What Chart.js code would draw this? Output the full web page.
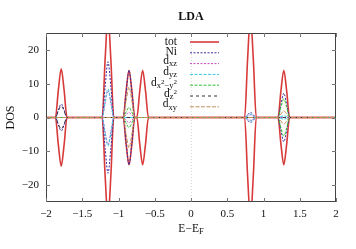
<!DOCTYPE html>
<html>
<head>
<meta charset="utf-8">
<script src="https://cdn.jsdelivr.net/npm/chart.js@4.4.1/dist/chart.umd.min.js"></script>
<style>
  html, body { margin: 0; padding: 0; background: #fff; }
  #wrap { width: 356px; height: 249px; }
</style>
</head>
<body>
<div id="wrap"><canvas id="dos"></canvas></div>
<script>
// energies (E - E_F), shared by every curve
const energia = [-2,
  -1.87, -1.83, -1.79, -1.75, -1.71,
  -1.225, -1.185, -1.145, -1.105, -1.065,
  -0.935, -0.895, -0.855, -0.815, -0.775,
  -0.747, -0.707, -0.667, -0.627, -0.587,
  0.74, 0.78, 0.82, 0.86, 0.90,
  1.20, 1.24, 1.28, 1.32, 1.36,
  2];

// spin-up DOS (spin-down is the mirror image)
const tot  = [0, 0, 8, 14.4, 8, 0, 0, 17, 30, 17, 0, 0, 7.8, 14, 7.8, 0, 0, 7.8, 14, 7.8, 0, 0, 17, 30, 17, 0, 0, 7.8, 14, 7.8, 0, 0];
const ni   = [0, 0, 2.2, 4, 2.2, 0, 0, 9, 16.5, 9, 0, 0, 7.5, 14, 7.5, 0, 0, 0, 0, 0, 0, 0, 0.8, 1.5, 0.8, 0, 0, 3.8, 7.2, 3.8, 0, 0];
const dxz  = [0, 0, 0, 0, 0, 0, 0, 4.3, 8, 4.3, 0, 0, 0.8, 1.5, 0.8, 0, 0, 0, 0, 0, 0, 0, 0.4, 0.8, 0.4, 0, 0, 0, 0, 0, 0, 0];
const dyz  = [0, 0, 0, 0, 0, 0, 0, 4.6, 8.5, 4.6, 0, 0, 0, 0, 0, 0, 0, 0, 0, 0, 0, 0, 0.5, 1, 0.5, 0, 0, 0.3, 0.5, 0.3, 0, 0];
const dx2y2 = [0, 0, 0, 0, 0, 0, 0, 0, 0, 0, 0, 0, 1.6, 3, 1.6, 0, 0, 0, 0, 0, 0, 0, 0, 0, 0, 0, 0, 3, 5.5, 3, 0, 0];
const dz2  = [0, 0, 1.9, 3.5, 1.9, 0, 0, 0, 0, 0, 0, 0, 0, 0, 0, 0, 0, 0, 0, 0, 0, 0, 0, 0, 0, 0, 0, 0, 0, 0, 0, 0];
const dxy  = [0, 0, 0, 0, 0, 0, 0, 0, 0, 0, 0, 0, 4.8, 9, 4.8, 0, 0, 0, 0, 0, 0, 0, 0, 0, 0, 0, 0, 1, 2, 1, 0, 0];

const xTicks = [-2, -1.5, -1, -0.5, 0, 0.5, 1, 1.5, 2];
const yTicks = [-20, -10, 0, 10, 20];

const FONT = "'Liberation Serif', 'Times New Roman', serif";

const series = [
  { valores: tot,   color: "#d83a3a", dash: [],     ancho: 1.6, label: [["tot"]] },
  { valores: ni,    color: "#3a2c9c", dash: [2, 1.5], ancho: 1, label: [["Ni"]] },
  { valores: dxz,   color: "#c846c8", dash: [2, 1.5], ancho: 1, label: [["d"], ["xz", "sub"]] },
  { valores: dyz,   color: "#38c8dc", dash: [3, 1.5], ancho: 1, label: [["d"], ["yz", "sub"]] },
  { valores: dx2y2, color: "#32c032", dash: [3, 1.5], ancho: 1, label: [["d"], ["x", "sub"], ["2", "subsup"], ["\u2212y", "sub"], ["2", "subsup"]] },
  { valores: dz2,   color: "#333340", dash: [3, 3], ancho: 1, label: [["d"], ["z", "sub"], ["2", "subsup"]] },
  { valores: dxy,   color: "#c0905a", dash: [4, 1.5], ancho: 1, label: [["d"], ["xy", "sub"]] },
];

const datasets = [];
series.forEach((s, k) => {
  const orden = series.length - k;
  const comun = {
    borderColor: s.color, borderWidth: s.ancho, borderDash: s.dash,
    showLine: true, pointRadius: 0, cubicInterpolationMode: "monotone", order: orden,
  };
  datasets.push({ ...comun, data: energia.map((e, i) => ({ x: e, y: s.valores[i] })) });
  datasets.push({ ...comun, data: energia.map((e, i) => ({ x: e, y: -s.valores[i] })) });
});

function menos(v) {
  return String(v).replace("-", "\u2212");
}

// text with sub/superscripts
function textoRico(ctx, partes, x, y, alinear) {
  const estilos = {
    base: { size: 11.5, dy: 0 },
    sub: { size: 8.5, dy: 3 },
    subsup: { size: 7, dy: -1 },
  };
  let total = 0;
  partes.forEach(p => {
    const st = estilos[p[1] || "base"];
    ctx.font = st.size + "px " + FONT;
    total += ctx.measureText(p[0]).width;
  });
  let cx = alinear === "right" ? x - total : x - total / 2;
  ctx.textAlign = "left";
  ctx.textBaseline = "middle";
  partes.forEach(p => {
    const st = estilos[p[1] || "base"];
    ctx.font = st.size + "px " + FONT;
    ctx.fillText(p[0], cx, y + st.dy);
    cx += ctx.measureText(p[0]).width;
  });
}

const marco = {
  id: "marco",
  beforeDatasetsDraw(chart) {
    const { ctx, chartArea: a, scales } = chart;
    // dotted line at the Fermi level
    const x0 = Math.round(scales.x.getPixelForValue(0)) + 0.5;
    ctx.save();
    ctx.strokeStyle = "#d8d8d8";
    ctx.lineWidth = 1;
    ctx.setLineDash([1, 2]);
    ctx.beginPath();
    ctx.moveTo(x0, a.top);
    ctx.lineTo(x0, a.bottom);
    ctx.stroke();
    ctx.restore();
  },
  afterDraw(chart) {
    const { ctx, chartArea: a, scales } = chart;
    ctx.save();
    ctx.strokeStyle = "#444";
    ctx.lineWidth = 1;
    ctx.strokeRect(a.left + 0.5, a.top + 0.5, a.right - a.left - 1, a.bottom - a.top - 1);
    ctx.strokeStyle = "#777";
    ctx.beginPath();
    xTicks.forEach(v => {
      const px = Math.round(scales.x.getPixelForValue(v)) + 0.5;
      ctx.moveTo(px, a.bottom); ctx.lineTo(px, a.bottom - 4);
      ctx.moveTo(px, a.top); ctx.lineTo(px, a.top + 4);
    });
    yTicks.forEach(v => {
      const py = Math.round(scales.y.getPixelForValue(v)) + 0.5;
      ctx.moveTo(a.left, py); ctx.lineTo(a.left + 4, py);
      ctx.moveTo(a.right, py); ctx.lineTo(a.right - 4, py);
    });
    ctx.stroke();

    // title and axis names
    ctx.fillStyle = "#111";
    ctx.font = "bold 12px " + FONT;
    ctx.textAlign = "center";
    ctx.textBaseline = "middle";
    ctx.fillText("LDA", (a.left + a.right) / 2, 17);
    textoRico(ctx, [["E\u2212E"], ["F", "sub"]], (a.left + a.right) / 2, 229, "center");
    ctx.save();
    ctx.translate(11, (a.top + a.bottom) / 2);
    ctx.rotate(-Math.PI / 2);
    ctx.font = "12px " + FONT;
    ctx.textAlign = "center";
    ctx.textBaseline = "middle";
    ctx.fillText("DOS", 0, 0);
    ctx.restore();

    // legend
    series.forEach((s, k) => {
      const y = 41.5 + k * 10.8;
      ctx.fillStyle = "#111";
      textoRico(ctx, s.label, 177, s.label.length > 1 ? y - 2 : y, "right");
      ctx.strokeStyle = s.color;
      ctx.lineWidth = s.ancho;
      ctx.setLineDash(s.dash);
      ctx.beginPath();
      ctx.moveTo(190, y + 0.5);
      ctx.lineTo(219, y + 0.5);
      ctx.stroke();
      ctx.setLineDash([]);
    });
    ctx.restore();
  },
};

new Chart(document.getElementById("dos"), {
  type: "scatter",
  data: { datasets },
  plugins: [marco],
  options: {
    responsive: true,
    maintainAspectRatio: false,
    animation: false,
    layout: { padding: { top: 33, right: 20, left: 0, bottom: 0 } },
    plugins: { legend: { display: false }, tooltip: { enabled: false }, title: { display: false } },
    scales: {
      x: {
        type: "linear",
        min: -2,
        max: 2,
        afterBuildTicks: scale => { scale.ticks = xTicks.map(v => ({ value: v })); },
        afterFit: scale => { scale.height = 47; },
        grid: { display: false, drawTicks: false },
        border: { display: false },
        ticks: {
          autoSkip: false, maxRotation: 0, padding: 6, color: "#111",
          font: { family: FONT, size: 11 },
          callback: v => menos(v),
        },
      },
      y: {
        min: -25,
        max: 25,
        afterBuildTicks: scale => { scale.ticks = yTicks.map(v => ({ value: v })); },
        afterFit: scale => { scale.width = 46; },
        grid: { display: false, drawTicks: false },
        border: { display: false },
        ticks: {
          padding: 7, color: "#111",
          font: { family: FONT, size: 11 },
          callback: v => menos(v),
        },
      },
    },
  },
});
</script>
</body>
</html>
